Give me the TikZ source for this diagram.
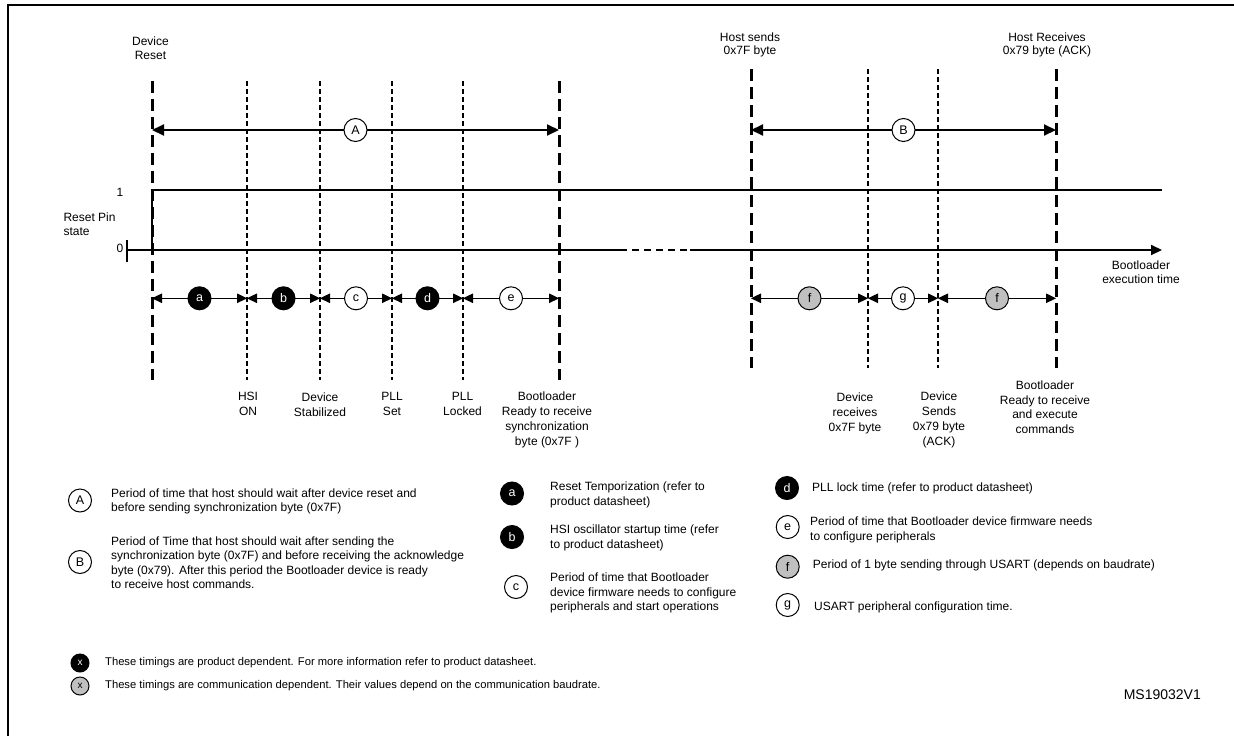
\documentclass[tikz,border=0pt]{standalone}
\usepackage{fontspec}
\setmainfont{Liberation Sans}
\usetikzlibrary{arrows.meta}
\definecolor{tagGrey}{RGB}{192,192,192}
\begin{document}
\begin{tikzpicture}[x=1pt,y=-1pt,
  every node/.style={inner sep=0pt},
  txt/.style={font=\fontsize{12}{14.5}\selectfont},
  lbl/.style={txt, align=center, anchor=north},
  toplbl/.style={lbl, font=\fontsize{12}{13.8}\selectfont},
  lgd/.style={txt, align=left, anchor=north west},
  note/.style={font=\fontsize{11.2}{12}\selectfont, anchor=west},
  thickdash/.style={line width=3pt, dash pattern=on 12pt off 6pt},
  thindash/.style={line width=1.2pt, dash pattern=on 5pt off 3pt},
  bigperiod/.style={line width=2pt, {Triangle[length=12pt,width=11pt]}-{Triangle[length=12pt,width=11pt]}},
  period/.style={line width=1.2pt, {Triangle[length=10pt,width=9.5pt]}-{Triangle[length=10pt,width=9.5pt]}},
  ctag/.style={circle, draw, line width=1pt, minimum size=23pt, fill=white, font=\fontsize{12.5}{14}\selectfont},
  ctagB/.style={ctag, fill=black, text=white},
  ctagG/.style={ctag, fill=tagGrey},
  ftag/.style={ctag, minimum size=18pt, font=\fontsize{10}{12}\selectfont},
]
\useasboundingbox (0,0) rectangle (1234,736);

% frame
\draw[line width=2pt] (8,5) -- (1234,5);
\draw[line width=1.5pt] (8,4) -- (8,736);

% event instants: start-up phase
\foreach \n/\x in {r/152, h/247, s/320, p/392, l/463, q/559}{
  \coordinate (\n-top) at (\x,81);
  \coordinate (\n-bot) at (\x,380);
  \coordinate (\n-big) at (\x,130);
  \coordinate (\n-small) at (\x,298.3);
}
% event instants: synchronization phase
\foreach \n/\x in {hs/751, dr/868, ds/938, hr/1056}{
  \coordinate (\n-top) at (\x,69);
  \coordinate (\n-bot) at (\x,368);
  \coordinate (\n-big) at (\x,130);
  \coordinate (\n-small) at (\x,298.3);
}

% instant markers
\foreach \n in {r,q,hs,hr} \draw[thickdash] (\n-top) -- (\n-bot);
\foreach \n in {h,s,p,l,dr,ds} \draw[thindash] (\n-top) -- (\n-bot);

% reset pin signal and time axis
\coordinate (ax0) at (127,250);
\coordinate (axBreakA) at (620,250);
\coordinate (axBreakB) at (690,250);
\coordinate (axEnd) at (1162,250);
\coordinate (tickTop) at (127,240);
\coordinate (tickBot) at (127,262);
\coordinate (rise0) at (152,250);
\coordinate (rise1) at (152,190);
\coordinate (lvl1End) at (1162,190);
\draw[line width=2pt] (tickTop) -- (tickBot);
\draw[line width=2pt] (ax0) -- (axBreakA);
\draw[line width=2pt, dash pattern=on 7pt off 5pt] (axBreakA) -- (axBreakB);
\draw[line width=2pt, -{Triangle[length=11pt,width=10pt]}] (axBreakB) -- (axEnd);
\draw[line width=2pt] (rise0) -- (rise1);
\draw[line width=1.2pt] (rise1) -- (lvl1End);

% overall periods
\draw[bigperiod] (r-big) -- node[ctag] (tagA) {A} (q-big);
\draw[bigperiod] (hs-big) -- node[ctag] (tagB) {B} (hr-big);

% detailed periods
\draw[period] (r-small) -- node[ctagB] (ta) {a} (h-small);
\draw[period] (h-small) -- node[ctagB] (tb) {b} (s-small);
\draw[period] (s-small) -- node[ctag] (tc) {c} (p-small);
\draw[period] (p-small) -- node[ctagB] (td) {d} (l-small);
\draw[period] (l-small) -- node[ctag] (te) {e} (q-small);
\draw[period] (hs-small) -- node[ctagG] (tf1) {f} (dr-small);
\draw[period] (dr-small) -- node[ctag] (tg) {g} (ds-small);
\draw[period] (ds-small) -- node[ctagG] (tf2) {f} (hr-small);

% top labels
\node[toplbl] (lReset) at (150.5,36.5) {Device\\Reset};
\node[toplbl] (lHostSend) at (750,32.2) {Host sends\\0x7F byte};
\node[toplbl] (lHostRecv) at (1047,32.2) {Host Receives\\0x79 byte (ACK)};

% signal labels
\node[txt] (l1) at (120,192.7) {1};
\node[txt] (l0) at (120,248.3) {0};
\node[lgd, font=\fontsize{12}{14.3}\selectfont] (lPin) at (63.3,212.3) {Reset Pin\\state};
\node[lbl] (lTime) at (1141,260.6) {Bootloader\\execution time};

% instant labels
\node[lbl, font=\fontsize{12}{15}\selectfont] (lHsi) at (248,392.3) {HSI\\ON};
\node[lbl, font=\fontsize{12}{15}\selectfont] (lStab) at (320,392.3) {Device\\Stabilized};
\node[lbl, font=\fontsize{12}{15}\selectfont] (lPllSet) at (392,392.3) {PLL\\Set};
\node[lbl, font=\fontsize{12}{15}\selectfont] (lPllLock) at (462.5,392.3) {PLL\\Locked};
\node[lbl, font=\fontsize{12}{15}\selectfont] (lReady) at (547,391.3) {Bootloader\\Ready to receive\\synchronization\\byte (0x7F )};
\node[lbl, font=\fontsize{12}{15}\selectfont] (lDevRecv) at (855,392.3) {Device\\receives\\0x7F byte};
\node[lbl, font=\fontsize{12}{15}\selectfont] (lDevSend) at (939,391.3) {Device\\Sends\\0x79 byte\\(ACK)};
\node[lbl, font=\fontsize{12}{14.6}\selectfont] (lCmd) at (1045,380.6) {Bootloader\\Ready to receive\\and execute\\commands};

% legend: overall periods
\node[ctag] (kA) at (80,500.5) {A};
\node[lgd, font=\fontsize{12}{14}\selectfont] (kAt) at (111,488.3) {Period of time that host should wait after device reset and\\before sending synchronization byte (0x7F)};
\node[ctag] (kB) at (80,562) {B};
\node[lgd, font=\fontsize{12}{14.4}\selectfont] (kBt) at (111,536.6) {Period of Time that host should wait after sending the\\synchronization byte (0x7F) and before receiving the acknowledge\\byte (0x79). After this period the Bootloader device is ready\\to receive host commands.};

% legend: detailed periods
\node[ctagB] (ka) at (512,493.5) {a};
\node[lgd] (kat) at (550,481.6) {Reset Temporization (refer to\\product datasheet)};
\node[ctagB] (kb) at (512,537) {b};
\node[lgd] (kbt) at (550,524.9) {HSI oscillator startup time (refer\\to product datasheet)};
\node[ctag] (kc) at (516,587) {c};
\node[lgd] (kct) at (550,572.9) {Period of time that Bootloader\\device firmware needs to configure\\peripherals and start operations};
\node[ctagB] (kd) at (787,488) {d};
\node[txt, anchor=west] (kdt) at (812,488) {PLL lock time (refer to product datasheet)};
\node[ctag] (ke) at (787.7,527) {e};
\node[lgd] (ket) at (810,516.6) {Period of time that Bootloader device firmware needs\\to configure peripherals};
\node[ctagG] (kf) at (787.7,566.7) {f};
\node[txt, anchor=west] (kft) at (812.7,565.5) {Period of 1 byte sending through USART (depends on baudrate)};
\node[ctag] (kg) at (787.7,605) {g};
\node[txt, anchor=west] (kgt) at (814,607) {USART peripheral configuration time.};

% legend: footnotes
\node[ftag, fill=black, text=white] (kx1) at (80,663) {x};
\node[note] (kx1t) at (105,663) {These timings are product dependent. For more information refer to product datasheet.};
\node[ftag, fill=tagGrey] (kx2) at (80,686) {x};
\node[note] (kx2t) at (105,686) {These timings are communication dependent. Their values depend on the communication baudrate.};
\node[anchor=east, font=\fontsize{14}{16}\selectfont] (ref) at (1201,695) {MS19032V1};
\end{tikzpicture}
\end{document}
